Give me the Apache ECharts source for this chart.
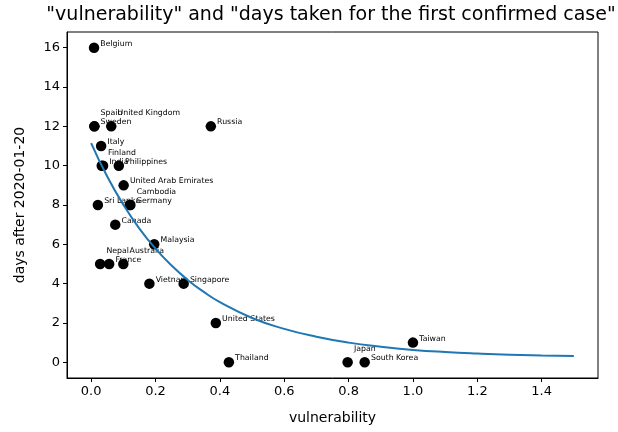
<!DOCTYPE html>
<html>
<head>
<meta charset="utf-8">
<script src="https://cdn.jsdelivr.net/npm/echarts@6/dist/echarts.min.js"></script>
<style>
  html, body { margin: 0; padding: 0; background: #fff; }
  #chart { width: 618px; height: 432px; }
</style>
</head>
<body>
<div id="chart"></div>
<script>
// Countries and their vulnerability score vs. days until the first confirmed case
const countries = ["Belgium", "Spain", "Sweden", "United Kingdom", "Russia", "Italy", "Finland", "India",
  "Philippines", "United Arab Emirates", "Cambodia", "Germany", "Sri Lanka", "Canada", "Malaysia",
  "Nepal", "France", "Australia", "Vietnam", "Singapore", "United States", "Thailand", "Japan",
  "South Korea", "Taiwan"];
const vulnerability = [0.009, 0.01, 0.01, 0.0625, 0.372, 0.031, 0.033, 0.037,
  0.086, 0.101, 0.122, 0.12, 0.021, 0.075, 0.196,
  0.028, 0.056, 0.1, 0.181, 0.2875, 0.3875, 0.428, 0.797,
  0.85, 1.0];
const daysAfter = [16, 12, 12, 12, 12, 11, 10, 10,
  10, 9, 8, 8, 8, 7, 6,
  5, 5, 5, 4, 4, 2, 0, 0,
  0, 1];

// Fitted trend curve, sampled along the x range
const curveX = [0, 0.05, 0.1, 0.15, 0.2, 0.25, 0.3, 0.35, 0.4, 0.5, 0.6, 0.7, 0.8, 0.9, 1.0, 1.1, 1.2, 1.3, 1.4, 1.5];
const curveY = [11.15, 9.45, 8.02, 6.8, 5.78, 4.92, 4.19, 3.58, 3.06, 2.25, 1.7, 1.3, 1.0, 0.79, 0.63, 0.52, 0.44, 0.38, 0.345, 0.32];

// Axis tick labels
const xTicks = [0, 0.2, 0.4, 0.6, 0.8, 1.0, 1.2, 1.4];
const yTicks = [0, 2, 4, 6, 8, 10, 12, 14, 16];

// Labels that sit a line higher so they don't collide with a neighbour
const raisedLabels = new Set(["Spain", "United Kingdom", "Finland", "Cambodia", "Nepal", "Australia", "Japan"]);

const FONT = "DejaVu Sans";

const points = countries.map((name, i) => ({ name: name, value: [vulnerability[i], daysAfter[i]] }));

const chart = echarts.init(document.getElementById('chart'), null, { renderer: 'canvas' });
chart.setOption({
  animation: false,
  backgroundColor: '#fff',
  textStyle: { fontFamily: FONT },
  title: {
    text: '"vulnerability" and "days taken for the first confirmed case"',
    left: 326, top: 1, textAlign: 'center',
    textStyle: { fontFamily: FONT, fontSize: 19, fontWeight: 'normal', color: '#000' }
  },
  grid: {
    left: 67, right: 20, top: 32, bottom: 54,
    show: true, borderColor: '#000', borderWidth: 1, backgroundColor: 'transparent'
  },
  xAxis: {
    type: 'value', min: -0.075, max: 1.575,
    name: 'vulnerability', nameLocation: 'middle', nameGap: 33,
    nameTextStyle: { fontFamily: FONT, fontSize: 14, color: '#000' },
    axisLine: { show: true, onZero: false, lineStyle: { color: '#000', width: 1 } },
    axisTick: { show: true, length: 4, customValues: xTicks, lineStyle: { color: '#000' } },
    axisLabel: {
      customValues: xTicks, margin: 7,
      fontFamily: FONT, fontSize: 13, color: '#000',
      formatter: v => v.toFixed(1)
    },
    splitLine: { show: false }
  },
  yAxis: {
    type: 'value', min: -0.8, max: 16.8,
    name: 'days after 2020-01-20', nameLocation: 'middle', nameGap: 40, nameRotate: 90,
    nameTextStyle: { fontFamily: FONT, fontSize: 14, color: '#000' },
    axisLine: { show: true, onZero: false, lineStyle: { color: '#000', width: 1 } },
    axisTick: { show: true, length: 4, customValues: yTicks, lineStyle: { color: '#000' } },
    axisLabel: {
      customValues: yTicks, margin: 7,
      fontFamily: FONT, fontSize: 13, color: '#000'
    },
    splitLine: { show: false }
  },
  series: [
    {
      type: 'scatter',
      z: 2,
      symbol: 'circle',
      symbolSize: 10.5,
      itemStyle: { color: '#000', opacity: 1 },
      label: {
        show: true,
        position: 'right',
        distance: 1,
        formatter: p => p.name,
        fontFamily: FONT, fontSize: 7.8, color: '#000'
      },
      labelLayout: p => ({
        dy: raisedLabels.has(countries[p.dataIndex]) ? -13 : -4,
        hideOverlap: false
      }),
      data: points
    },
    {
      type: 'line',
      z: 3,
      smooth: true,
      showSymbol: false,
      lineStyle: { color: '#1f77b4', width: 2 },
      data: curveX.map((x, i) => [x, curveY[i]])
    }
  ]
});
</script>
</body>
</html>
